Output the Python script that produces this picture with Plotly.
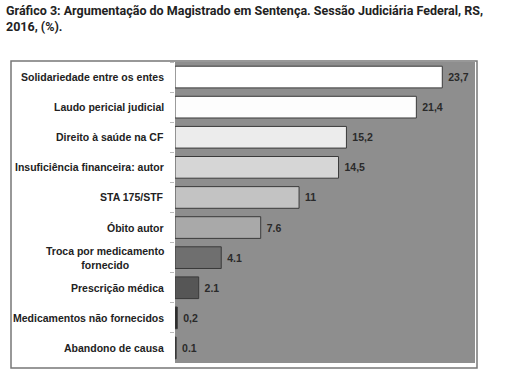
import plotly.graph_objects as go

categories = [
    "Solidariedade entre os entes",
    "Laudo pericial judicial",
    "Direito à saúde na CF",
    "Insuficiência financeira: autor",
    "STA 175/STF",
    "Óbito autor",
    "Troca por medicamento<br>fornecido",
    "Prescrição médica",
    "Medicamentos não fornecidos",
    "Abandono de causa",
]
values = [23.7, 21.4, 15.2, 14.5, 11, 7.6, 4.1, 2.1, 0.2, 0.1]
value_labels = ["23,7", "21,4", "15,2", "14,5", "11", "7.6", "4.1", "2.1", "0,2", "0.1"]
bar_colors = ["#ffffff", "#fdfdfd", "#ececec", "#d6d6d6", "#c3c3c3",
              "#a9a9a9", "#6f6f6f", "#565656", "#2a2a2a", "#3a3a3a"]

title_text = ("Gráfico 3: Argumentação do Magistrado em Sentença. Sessão Judiciária Federal, RS,"
              "<br>2016, (%).")

W, H = 519, 382
ml, mr, mt, mb = 175, 44, 62, 19
pw, ph = W - ml - mr, H - mt - mb

fig = go.Figure()
fig.add_trace(go.Bar(
    y=categories,
    x=values,
    orientation="h",
    marker=dict(color=bar_colors, line=dict(color="#3a3a3a", width=1)),
    text=["<b>\u00a0" + t + "</b>" for t in value_labels],
    textposition="outside",
    textfont=dict(family="Liberation Sans", size=10.5, color="#2a2a2a"),
    cliponaxis=False,
    hoverinfo="skip",
))

annotations = []
for c in categories:
    annotations.append(dict(
        x=0, xref="paper", y=c, yref="y", xanchor="right", yanchor="middle",
        xshift=-9, text="<b>" + c + "</b>", showarrow=False, align="center",
        font=dict(family="Liberation Sans", size=10.5, color="#222222"),
    ))
annotations.append(dict(
    x=(4 - ml) / pw, xref="paper", y=1 + (mt - 1) / ph, yref="paper",
    text="<b>" + title_text + "</b>",
    showarrow=False, align="left", xanchor="left", yanchor="top",
    font=dict(family="Roboto", size=12.5, color="#222222"),
))

fig.update_layout(
    width=W, height=H,
    margin=dict(l=ml, r=mr, t=mt, b=mb),
    paper_bgcolor="#ffffff",
    plot_bgcolor="#8e8e8e",
    showlegend=False,
    bargap=0.28,
    xaxis=dict(range=[0, 26.6], showticklabels=False, showgrid=False, zeroline=False,
               ticks="", fixedrange=True),
    yaxis=dict(autorange="reversed", showticklabels=False, showgrid=False,
               zeroline=False, ticks="outside", tickson="boundaries", ticklen=4,
               tickcolor="#bbbbbb", fixedrange=True),
    annotations=annotations,
    shapes=[dict(type="rect", xref="paper", yref="paper",
                 x0=(11 - ml) / pw, x1=(477 - ml) / pw,
                 y0=-(368 - (H - mb)) / ph, y1=1 + 1 / ph,
                 line=dict(color="#777777", width=1.5), layer="below")],
)

fig.write_html("out.html", config={"displayModeBar": False},
               post_script="document.body.style.margin='0';")
